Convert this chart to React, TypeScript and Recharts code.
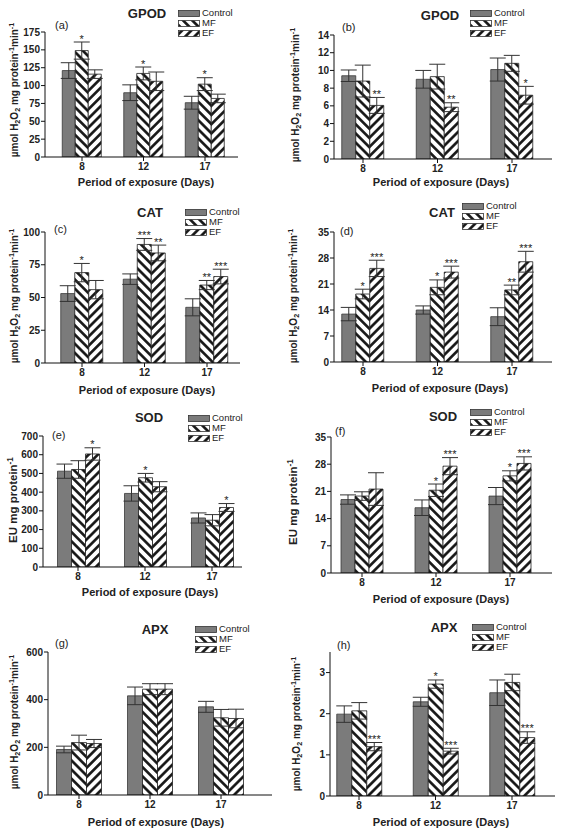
import React from "react";
import { BarChart, Bar, XAxis, YAxis, ErrorBar, LabelList, Legend } from "recharts";

const days = ["8", "12", "17"];
const seriesNames = ["Control", "MF", "EF"];

// (a) GPOD
const aCtrl = [121, 90, 76];
const aCtrlErr = [11, 11, 9];
const aMf = [149, 117, 102];
const aMfErr = [12, 9, 9];
const aEf = [116, 106, 82];
const aEfErr = [6, 13, 6];
const aMfSig = ["*", "*", "*"];
const aEfSig = ["", "", ""];
const aTicks = [0, 25, 50, 75, 100, 125, 150, 175];

// (b) GPOD
const bCtrl = [9.4, 9.0, 10.1];
const bCtrlErr = [0.65, 1.0, 1.3];
const bMf = [8.8, 9.3, 10.8];
const bMfErr = [1.8, 1.4, 0.9];
const bEf = [6.05, 5.85, 7.2];
const bEfErr = [0.9, 0.5, 1.0];
const bMfSig = ["", "", ""];
const bEfSig = ["**", "**", "*"];
const bTicks = [0, 2, 4, 6, 8, 10, 12, 14];

// (c) CAT
const cCtrl = [53, 64, 42.5];
const cCtrlErr = [6, 4, 6.5];
const cMf = [69, 90.5, 59.5];
const cMfErr = [7, 4.5, 3.5];
const cEf = [56, 84, 66];
const cEfErr = [7, 6, 5.6];
const cMfSig = ["*", "***", "**"];
const cEfSig = ["", "**", "***"];
const cTicks = [0, 25, 50, 75, 100];

// (d) CAT
const dCtrl = [12.9, 14.0, 12.2];
const dCtrlErr = [1.8, 1.1, 2.4];
const dMf = [18.3, 20.1, 19.4];
const dMfErr = [1.3, 2.0, 1.3];
const dEf = [25.2, 24.2, 27.0];
const dEfErr = [2.2, 1.6, 2.8];
const dMfSig = ["*", "*", "**"];
const dEfSig = ["***", "***", "***"];
const dTicks = [0, 7, 14, 21, 28, 35];

// (e) SOD
const eCtrl = [512, 393, 262];
const eCtrlErr = [38, 41, 27];
const eMf = [521, 477, 250];
const eMfErr = [47, 23, 30];
const eEf = [604, 429, 318];
const eEfErr = [33, 27, 21];
const eMfSig = ["", "*", ""];
const eEfSig = ["*", "", "*"];
const eTicks = [0, 100, 200, 300, 400, 500, 600, 700];

// (f) SOD
const fCtrl = [18.9, 16.8, 19.8];
const fCtrlErr = [1.2, 2.0, 2.2];
const fMf = [19.8, 21.3, 25.0];
const fMfErr = [1.1, 1.6, 1.3];
const fEf = [21.6, 27.5, 28.2];
const fEfErr = [4.2, 2.2, 1.7];
const fMfSig = ["", "*", "*"];
const fEfSig = ["", "***", "***"];
const fTicks = [0, 7, 14, 21, 28, 35];

// (g) APX
const gCtrl = [191, 416, 370];
const gCtrlErr = [14, 37, 23];
const gMf = [220, 444, 324];
const gMfErr = [31, 23, 35];
const gEf = [216, 444, 321];
const gEfErr = [17, 23, 39];
const gMfSig = ["", "", ""];
const gEfSig = ["", "", ""];
const gTicks = [0, 200, 400, 600];

// (h) APX
const hCtrl = [1.99, 2.29, 2.51];
const hCtrlErr = [0.2, 0.11, 0.31];
const hMf = [2.07, 2.72, 2.76];
const hMfErr = [0.2, 0.1, 0.2];
const hEf = [1.2, 1.09, 1.42];
const hEfErr = [0.1, 0.07, 0.14];
const hMfSig = ["", "*", ""];
const hEfSig = ["***", "***", "***"];
const hTicks = [0, 1, 2, 3];

const FONT = '"Liberation Sans", Arial, Helvetica, sans-serif';
const INK = "#222";

type Row = Record<string, any>;

const mkData = (
  ctrl: number[], ctrlErr: number[], mf: number[], mfErr: number[],
  ef: number[], efErr: number[], mfSig: string[], efSig: string[]
): Row[] =>
  days.map((d, i) => ({
    day: d, pos: i + 1,
    ctrl: ctrl[i], ctrlErr: ctrlErr[i],
    mf: mf[i], mfErr: mfErr[i],
    ef: ef[i], efErr: efErr[i],
    mfSig: mfSig[i], efSig: efSig[i],
  }));

type Panel = {
  id: string; letter: string; title: string; yKind: "h2o2" | "eu";
  box: [number, number, number, number];
  axis: { left: number; right: number; top: number; bottom: number };
  centers: [number, number];
  yMax: number; yTicks: number[]; barSize: number;
  data: Row[];
  titleAt: [number, number]; letterAt: [number, number]; legendAt: [number, number];
  xLabelAt: [number, number]; yLabelAt: [number, number];
};

const panels: Panel[] = [
  {
    id: "a", letter: "(a)", title: "GPOD", yKind: "h2o2",
    box: [0, 0, 282, 200], axis: { left: 45, right: 238, top: 32, bottom: 157 },
    centers: [82, 205], yMax: 175, yTicks: aTicks, barSize: 13,
    data: mkData(aCtrl, aCtrlErr, aMf, aMfErr, aEf, aEfErr, aMfSig, aEfSig),
    titleAt: [147, 13], letterAt: [55, 25], legendAt: [178, 13], xLabelAt: [146, 182], yLabelAt: [13, 90],
  },
  {
    id: "b", letter: "(b)", title: "GPOD", yKind: "h2o2",
    box: [282, 0, 283, 200], axis: { left: 334, right: 552, top: 35, bottom: 159 },
    centers: [363, 512], yMax: 14, yTicks: bTicks, barSize: 14,
    data: mkData(bCtrl, bCtrlErr, bMf, bMfErr, bEf, bEfErr, bMfSig, bEfSig),
    titleAt: [440, 15], letterAt: [342, 27], legendAt: [470, 13], xLabelAt: [441, 182], yLabelAt: [294, 95],
  },
  {
    id: "c", letter: "(c)", title: "CAT", yKind: "h2o2",
    box: [0, 200, 282, 210], axis: { left: 45, right: 240, top: 232, bottom: 363 },
    centers: [82, 207], yMax: 100, yTicks: cTicks, barSize: 14,
    data: mkData(cCtrl, cCtrlErr, cMf, cMfErr, cEf, cEfErr, cMfSig, cEfSig),
    titleAt: [150, 212], letterAt: [54, 229], legendAt: [185, 212], xLabelAt: [147, 390], yLabelAt: [13, 296],
  },
  {
    id: "d", letter: "(d)", title: "CAT", yKind: "h2o2",
    box: [282, 200, 283, 210], axis: { left: 334, right: 552, top: 232, bottom: 362 },
    centers: [363, 512], yMax: 35, yTicks: dTicks, barSize: 14,
    data: mkData(dCtrl, dCtrlErr, dMf, dMfErr, dEf, dEfErr, dMfSig, dEfSig),
    titleAt: [442, 212], letterAt: [340, 231], legendAt: [462, 206], xLabelAt: [440, 388], yLabelAt: [292, 296],
  },
  {
    id: "e", letter: "(e)", title: "SOD", yKind: "eu",
    box: [0, 410, 282, 210], axis: { left: 43, right: 242, top: 436, bottom: 567 },
    centers: [78, 212], yMax: 700, yTicks: eTicks, barSize: 14,
    data: mkData(eCtrl, eCtrlErr, eMf, eMfErr, eEf, eEfErr, eMfSig, eEfSig),
    titleAt: [149, 417], letterAt: [52, 435], legendAt: [188, 418], xLabelAt: [150, 592], yLabelAt: [12, 500],
  },
  {
    id: "f", letter: "(f)", title: "SOD", yKind: "eu",
    box: [282, 410, 283, 210], axis: { left: 331, right: 552, top: 437, bottom: 573 },
    centers: [362, 510], yMax: 35, yTicks: fTicks, barSize: 14,
    data: mkData(fCtrl, fCtrlErr, fMf, fMfErr, fEf, fEfErr, fMfSig, fEfSig),
    titleAt: [443, 416], letterAt: [335, 431], legendAt: [470, 412], xLabelAt: [441, 599], yLabelAt: [292, 502],
  },
  {
    id: "g", letter: "(g)", title: "APX", yKind: "h2o2",
    box: [0, 620, 282, 210], axis: { left: 48, right: 272, top: 652, bottom: 795 },
    centers: [79, 221], yMax: 600, yTicks: gTicks, barSize: 15,
    data: mkData(gCtrl, gCtrlErr, gMf, gMfErr, gEf, gEfErr, gMfSig, gEfSig),
    titleAt: [155, 629], letterAt: [55, 643], legendAt: [195, 629], xLabelAt: [156, 822], yLabelAt: [13, 722],
  },
  {
    id: "h", letter: "(h)", title: "APX", yKind: "h2o2",
    box: [282, 620, 283, 210], axis: { left: 330, right: 555, top: 652, bottom: 796 },
    centers: [359, 512], yMax: 3.5, yTicks: hTicks, barSize: 15,
    data: mkData(hCtrl, hCtrlErr, hMf, hMfErr, hEf, hEfErr, hMfSig, hEfSig),
    titleAt: [444, 627], letterAt: [337, 645], legendAt: [472, 627], xLabelAt: [441, 822], yLabelAt: [295, 724],
  },
];

const YW = 30;
const XH = 30;

const makeStars = (data: Row[], valueKey: string, errKey: string, sigKey: string) => (props: any) => {
  const idx = props.index;
  const row = data[idx];
  if (!row) return null;
  const sig = row[sigKey];
  if (!sig) return null;
  const vb = props.viewBox || props;
  const { x, y, width, height } = vb;
  const v = row[valueKey];
  const e = row[errKey];
  const capY = y - (e * height) / v;
  return (
    <text x={x + width / 2} y={capY + 0.5} textAnchor="middle" fontSize={11} fill={INK} fontFamily={FONT}>
      {sig}
    </text>
  );
};

const Swatch = ({ fill }: { fill: string }) => (
  <svg width={22} height={7} style={{ display: "block" }}>
    <rect x={0.5} y={0.5} width={21} height={6} fill={fill} stroke="#333" strokeWidth={0.8} />
  </svg>
);

const YLabelText = ({ kind }: { kind: "h2o2" | "eu" }) => {
  const s: React.CSSProperties = { fontSize: "0.72em", lineHeight: 0, position: "relative" };
  if (kind === "eu") {
    return (
      <span style={{ fontSize: 11.5, fontWeight: "bold" }}>
        EU mg protein<span style={{ ...s, top: "-0.5em" }}>-1</span>
      </span>
    );
  }
  return (
    <span style={{ fontSize: 10, fontWeight: "bold" }}>
      µmol H<span style={{ ...s, top: "0.3em" }}>2</span>O<span style={{ ...s, top: "0.3em" }}>2</span> mg protein
      <span style={{ ...s, top: "-0.5em" }}>-1</span>min<span style={{ ...s, top: "-0.5em" }}>-1</span>
    </span>
  );
};

const PanelChart = ({ p }: { p: Panel }) => {
  const [bx, by, bw, bh] = p.box;
  const { left, right, top, bottom } = p.axis;
  const unit = (p.centers[1] - p.centers[0]) / 2;
  const d0 = 1 - (p.centers[0] - left) / unit;
  const d1 = 3 + (right - p.centers[1]) / unit;
  const margin = {
    left: left - bx - YW,
    top: top - by,
    right: bx + bw - right,
    bottom: by + bh - bottom - XH,
  };
  const mfId = `mf-${p.id}`;
  const efId = `ef-${p.id}`;
  const fills = ["#7b7b7b", `url(#${mfId})`, `url(#${efId})`];
  const legendContent = () => (
    <div style={{ fontFamily: FONT, fontSize: 9.5, color: INK }}>
      {seriesNames.map((n, i) => (
        <div key={n} style={{ display: "flex", alignItems: "center", height: 10 }}>
          <Swatch fill={fills[i]} />
          <span style={{ marginLeft: 2, lineHeight: "10px" }}>{n}</span>
        </div>
      ))}
    </div>
  );
  const tickStyle = { fontSize: 10, fontWeight: "bold" as const, fill: INK, fontFamily: FONT };
  return (
    <div style={{ position: "absolute", left: bx, top: by, width: bw, height: bh }}>
      <BarChart width={bw} height={bh} data={p.data} margin={margin} barGap={0}>
        <defs>
          <pattern id={mfId} patternUnits="userSpaceOnUse" width={6.5} height={6.5} patternTransform="rotate(-45)">
            <rect width={6.5} height={6.5} fill="#fff" />
            <line x1={3.25} y1={-1} x2={3.25} y2={7.5} stroke="#111" strokeWidth={2.6} />
          </pattern>
          <pattern id={efId} patternUnits="userSpaceOnUse" width={6.5} height={6.5} patternTransform="rotate(45)">
            <rect width={6.5} height={6.5} fill="#fff" />
            <line x1={3.25} y1={-1} x2={3.25} y2={7.5} stroke="#111" strokeWidth={2.6} />
          </pattern>
        </defs>
        <XAxis
          type="number"
          dataKey="pos"
          domain={[d0, d1]}
          allowDataOverflow
          ticks={[1, 2, 3]}
          tickFormatter={(v: number) => days[v - 1]}
          height={XH}
          tickSize={4}
          tickMargin={2}
          stroke="#111"
          tick={tickStyle}
          interval={0}
        />
        <YAxis
          type="number"
          domain={[0, p.yMax]}
          allowDataOverflow
          ticks={p.yTicks}
          width={YW}
          tickSize={4}
          tickMargin={1}
          stroke="#111"
          tick={tickStyle}
          interval={0}
        />
        <Legend
          layout="vertical"
          align="center"
          verticalAlign="middle"
          content={legendContent}
          wrapperStyle={{ left: p.legendAt[0] - bx, top: p.legendAt[1] - 5 - by, width: "auto", height: "auto" }}
        />
        <Bar dataKey="ctrl" fill={fills[0]} stroke="#3a3a3a" strokeWidth={0.8} barSize={p.barSize} isAnimationActive={false}>
          <ErrorBar dataKey="ctrlErr" width={8} stroke="#333" strokeWidth={1} direction="y" />
        </Bar>
        <Bar dataKey="mf" fill={fills[1]} stroke="#222" strokeWidth={0.8} barSize={p.barSize} isAnimationActive={false}>
          <ErrorBar dataKey="mfErr" width={8} stroke="#333" strokeWidth={1} direction="y" />
          <LabelList dataKey="mfSig" content={makeStars(p.data, "mf", "mfErr", "mfSig")} />
        </Bar>
        <Bar dataKey="ef" fill={fills[2]} stroke="#222" strokeWidth={0.8} barSize={p.barSize} isAnimationActive={false}>
          <ErrorBar dataKey="efErr" width={8} stroke="#333" strokeWidth={1} direction="y" />
          <LabelList dataKey="efSig" content={makeStars(p.data, "ef", "efErr", "efSig")} />
        </Bar>
      </BarChart>
      <div
        style={{
          position: "absolute", left: p.titleAt[0] - bx, top: p.titleAt[1] - by,
          transform: "translate(-50%, -50%)", fontFamily: FONT, fontWeight: "bold", fontSize: 13, color: INK, whiteSpace: "nowrap",
        }}
      >
        {p.title}
      </div>
      <div
        style={{
          position: "absolute", left: p.letterAt[0] - bx, top: p.letterAt[1] - by,
          transform: "translateY(-50%)", fontFamily: FONT, fontSize: 11, color: INK, whiteSpace: "nowrap",
        }}
      >
        {p.letter}
      </div>
      <div
        style={{
          position: "absolute", left: p.xLabelAt[0] - bx, top: p.xLabelAt[1] - by,
          transform: "translate(-50%, -50%)", fontFamily: FONT, fontWeight: "bold", fontSize: 11, color: INK, whiteSpace: "nowrap",
        }}
      >
        Period of exposure (Days)
      </div>
      <div
        style={{
          position: "absolute", left: p.yLabelAt[0] - bx, top: p.yLabelAt[1] - by,
          transform: "translate(-50%, -50%) rotate(-90deg)", fontFamily: FONT, color: INK, whiteSpace: "nowrap",
        }}
      >
        <YLabelText kind={p.yKind} />
      </div>
    </div>
  );
};

export default function App() {
  return (
    <div style={{ position: "absolute", left: 0, top: 0, width: 565, height: 830, background: "#fff", overflow: "hidden" }}>
      {panels.map((p) => (
        <PanelChart key={p.id} p={p} />
      ))}
    </div>
  );
}
